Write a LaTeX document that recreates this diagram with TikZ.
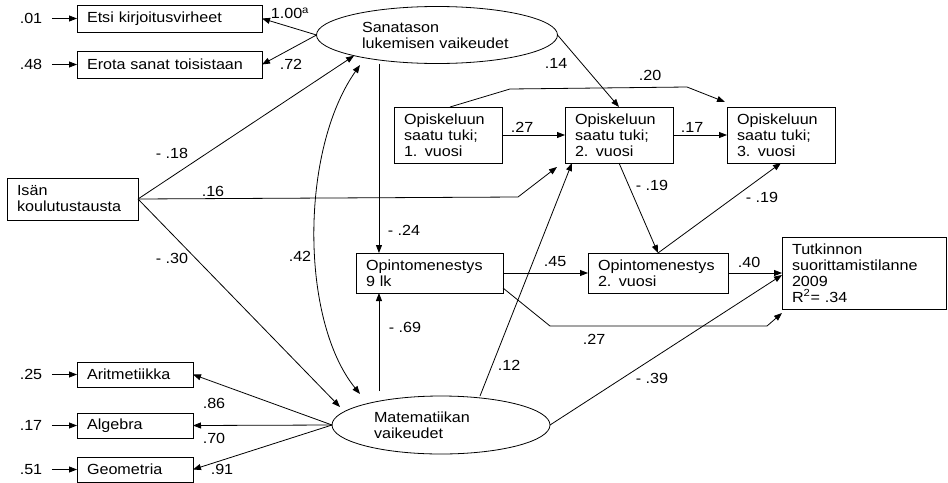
\documentclass[tikz,border=0pt]{standalone}
\usepackage{fontspec}
\setmainfont{Liberation Sans}[FakeStretch=1.1]
\usetikzlibrary{arrows.meta, positioning, shapes.geometric}

\begin{document}
\begin{tikzpicture}[x=0.75pt, y=-0.75pt, >={Triangle[length=6pt, width=4.5pt]},
  font=\fontsize{11}{12}\selectfont, line width=0.6pt,
  box/.style={draw, align=left, inner xsep=7.5pt, inner ysep=0pt, outer sep=0pt},
  latent/.style={draw, ellipse, align=left, inner sep=0pt, outer sep=0pt},
  coef/.style={inner sep=1pt},
  err/.style={inner xsep=7pt, inner ysep=1pt}]

  \useasboundingbox (0,0) rectangle (948,482);

  % latent variables
  \node[latent, minimum width=180.75pt, minimum height=42.75pt, text width=112.5pt] (san) at (437,35) {Sanatason\\lukemisen vaikeudet};
  \node[latent, minimum width=163.5pt, minimum height=43.5pt, text width=100.5pt] (mat) at (441,425) {Matematiikan\\vaikeudet};

  % indicators
  \node[box, text width=123.75pt, minimum height=20.25pt] (etsi) at (169.5,18.5) {Etsi kirjoitusvirheet};
  \node[box, text width=123.75pt, minimum height=20.25pt, below=14.25pt of etsi] (erota) {Erota sanat toisistaan};
  \node[box, text width=72pt, minimum height=18.75pt] (arit) at (135,374.5) {Aritmetiikka};
  \node[box, text width=72pt, minimum height=18.75pt, below=19.5pt of arit] (alg) {Algebra};
  \node[box, text width=72pt, minimum height=18.75pt, below=14.25pt of alg] (geo) {Geometria};

  % observed variables
  \node[box, text width=83.25pt, minimum height=31.5pt] (isa) at (72.5,199) {Isän\\koulutustausta};
  \node[box, text width=66pt, minimum height=42pt] (tuki1) at (448,135) {Opiskeluun\\saatu tuki;\\1. vuosi};
  \node[box, text width=66pt, minimum height=42pt, right=47.25pt of tuki1] (tuki2) {Opiskeluun\\saatu tuki;\\2. vuosi};
  \node[box, text width=66pt, minimum height=42pt, right=40.5pt of tuki2] (tuki3) {Opiskeluun\\saatu tuki;\\3. vuosi};
  \node[box, text width=95.25pt, minimum height=30pt] (om9) at (429.5,273) {Opintomenestys\\9 lk};
  \node[box, text width=90pt, minimum height=30pt] (om2) at (658,273) {Opintomenestys\\2. vuosi};
  \node[box, text width=108pt, minimum height=54pt] (tutk) at (864,273) {Tutkinnon\\suorittamistilanne\\2009\\R\textsuperscript{2}= .34};

  % residuals of indicators
  \foreach \n/\y/\e in {etsi/18.5/.01, erota/64.5/.48, arit/374.5/.25, alg/425.5/.17, geo/469.5/.51} {
    \node[err] (e-\n) at (31,\y) {\e};
    \draw[->] (e-\n) -- (\n);
  }

  % loadings
  \draw[->] (san.west) -- (etsi.east);
  \draw[->] (san.west) -- (erota.east);
  \foreach \n in {arit, alg, geo}
    \draw[->] (mat.west) -- (\n.east);

  % paths
  \draw[->] (isa.east) -- (san.194);
  \draw[->] (isa.east) -- ++(380,-2) -- ([shift={(-8,4)}]tuki2.south west);
  \draw[->] (isa.east) -- ([shift={(8,-18)}]mat.west);
  \draw[<->] ([shift={(-77,30)}]san.center) .. controls (300,150) and (300,320) .. ([shift={(-81,-31)}]mat.center);
  \draw[->] ([xshift=-37.9pt]om9.north |- san.south) -- ([xshift=-37.9pt]om9.north);
  \draw[->, shorten <=3.75pt] ([xshift=-37.9pt]om9.south |- mat.north) -- ([xshift=-37.9pt]om9.south);
  \draw[->] ([xshift=29.25pt]mat.north) -- ([xshift=5.25pt]tuki2.south west);
  \draw[->] (mat.east) -- ([yshift=-1.5pt]tutk.west);
  \draw[->] (om9) -- (om2);
  \draw[->] (om2) -- (tutk);
  \draw[->] ([yshift=-11.25pt]om9.east) -- ++(47,38) -- ++(217,0) -- ([yshift=-3pt]tutk.south west);
  \draw[->] (tuki1) -- (tuki2);
  \draw[->] (tuki2) -- (tuki3);
  \draw[->] ([xshift=1.5pt]tuki1.north) -- ++(60,-18) -- ++(177,-2) -- ([shift={(-2,-5)}]tuki3.north west);
  \draw[->] (san.east) -- (tuki2.north);
  \draw[->] (tuki2.south) -- (om2.north);
  \draw[->] (om2.north) -- (tuki3.south);

  % coefficients
  \foreach \x/\y/\t [count=\i] in {290/13/{1.00\textsuperscript{a}}, 291/64/.72, 172/153/{- .18}, 213/191/.16,
      172/258/{- .30}, 300/256/.42, 404/230/{- .24}, 405/327/{- .69}, 214/403/.86, 214/438/.70,
      222/469/.91, 509/365/.12, 652/378/{- .39}, 555/262/.45, 749/262/.40, 594/339/.27,
      522/127/.27, 692/127/.17, 650/75/.20, 556/63/.14, 652/185/{- .19}, 762/197/{- .19}}
    \node[coef] (c\i) at (\x,\y) {\t};

\end{tikzpicture}
\end{document}
